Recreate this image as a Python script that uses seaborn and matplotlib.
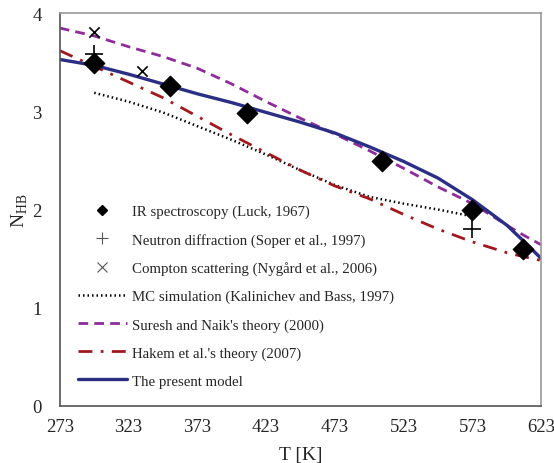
import matplotlib
matplotlib.use("Agg")
import matplotlib.pyplot as plt
import seaborn as sns
import pandas as pd
from matplotlib.lines import Line2D

sns.set_theme(style="white")
plt.rcParams['font.family'] = ['Liberation Serif', 'DejaVu Serif']
plt.rcParams['mathtext.fontset'] = 'custom'
plt.rcParams['mathtext.rm'] = 'Liberation Serif'

# Experimental data
ir_T = [298, 353, 409, 507, 573, 610]
ir_N = [3.49, 3.26, 2.98, 2.49, 2.00, 1.60]
nd_T = [298, 573]
nd_N = [3.59, 1.80]
cs_T = [298, 333]
cs_N = [3.81, 3.41]

# Model curves
T_mc = [298, 323, 348, 373, 398, 423, 448, 473, 498, 523, 548, 573]
N_mc = [3.19, 3.10, 2.99, 2.85, 2.71, 2.56, 2.40, 2.25, 2.13, 2.06, 2.00, 1.93]
T_curve = [273, 298, 323, 348, 373, 398, 423, 448, 473, 498, 523, 548, 573, 598, 610, 623]
N_suresh = [3.85, 3.77, 3.66, 3.56, 3.44, 3.28, 3.10, 2.93, 2.77, 2.60, 2.42, 2.23, 2.06, 1.84, 1.74, 1.64]
N_hakem = [3.62, 3.46, 3.30, 3.14, 2.95, 2.76, 2.58, 2.40, 2.24, 2.11, 1.95, 1.80, 1.67, 1.56, 1.52, 1.48]
N_present = [3.53, 3.47, 3.38, 3.28, 3.18, 3.09, 2.99, 2.89, 2.78, 2.64, 2.49, 2.32, 2.10, 1.84, 1.68, 1.50]

x_ticks = [273, 323, 373, 423, 473, 523, 573, 623]
y_ticks = [0, 1, 2, 3, 4]

labels = ["IR spectroscopy (Luck, 1967)",
          "Neutron diffraction (Soper et al., 1997)",
          "Compton scattering (Nygård et al., 2006)",
          "MC simulation (Kalinichev and Bass, 1997)",
          "Suresh and Naik's theory (2000)",
          "Hakem et al.'s theory (2007)",
          "The present model"]

c_purple = "#8E2C9A"
c_red = "#A3181E"
c_blue = "#2B2E85"

ls_mc = (0, (0.6, 1.2))
ls_su = (0, (3.5, 2.2))
ls_ha = (0, (5, 3, 1, 3))

fig = plt.figure(figsize=(5.54, 4.64), dpi=100)
ax = fig.add_axes([0.108, 0.1235, 0.869, 0.8455])

df_mc = pd.DataFrame({"T": T_mc, "N": N_mc})
df_c = pd.DataFrame({"T": T_curve, "S": N_suresh, "H": N_hakem, "P": N_present})

sns.lineplot(data=df_mc, x="T", y="N", ax=ax, color="black", lw=1.8, linestyle=ls_mc)
sns.lineplot(data=df_c, x="T", y="S", ax=ax, color=c_purple, lw=2.0, linestyle=ls_su)
sns.lineplot(data=df_c, x="T", y="H", ax=ax, color=c_red, lw=2.0, linestyle=ls_ha)
sns.lineplot(data=df_c, x="T", y="P", ax=ax, color=c_blue, lw=2.4)

sns.scatterplot(x=ir_T, y=ir_N, ax=ax, marker="D", s=110, color="black",
                edgecolor="black", zorder=5)
sns.scatterplot(x=nd_T, y=nd_N, ax=ax, marker="+", s=150, color="black",
                linewidth=1.2, zorder=5)
sns.scatterplot(x=cs_T, y=cs_N, ax=ax, marker="x", s=55, color="black",
                linewidth=1.2, zorder=5)

ax.set_xlim(273, 623)
ax.set_ylim(0, 4)
ax.set_xticks(x_ticks)
ax.set_yticks(y_ticks)
ax.tick_params(direction="inout", length=10, width=1, color="#555555",
               labelsize=13.5)
ax.tick_params(axis="y", pad=8)
ax.tick_params(axis="x", pad=4)
for s in ax.spines.values():
    s.set_color("#999999")
    s.set_linewidth(1.2)
ax.spines["left"].set_color("#555555")
ax.spines["bottom"].set_color("#555555")
ax.set_xlabel("T [K]", fontsize=14, labelpad=8)
ax.set_ylabel(r"N$_{\mathrm{HB}}$", fontsize=14, labelpad=2)

handles = [
    Line2D([], [], ls="none", marker="D", ms=5, color="black"),
    Line2D([], [], ls="none", marker="+", ms=8, color="#555555", mew=0.8),
    Line2D([], [], ls="none", marker="x", ms=7, color="#555555", mew=0.8),
    Line2D([], [], color="black", lw=1.8, ls=ls_mc),
    Line2D([], [], color=c_purple, lw=2.0, ls=ls_su),
    Line2D([], [], color=c_red, lw=2.0, ls=ls_ha),
    Line2D([], [], color=c_blue, lw=2.4),
]
ax.legend(handles, labels, loc="lower left", bbox_to_anchor=(0.0096, 0.012),
          frameon=False, fontsize=10.7, handlelength=3.3, handletextpad=0.33,
          labelspacing=0.98)

fig.savefig("out.png", dpi=100)
